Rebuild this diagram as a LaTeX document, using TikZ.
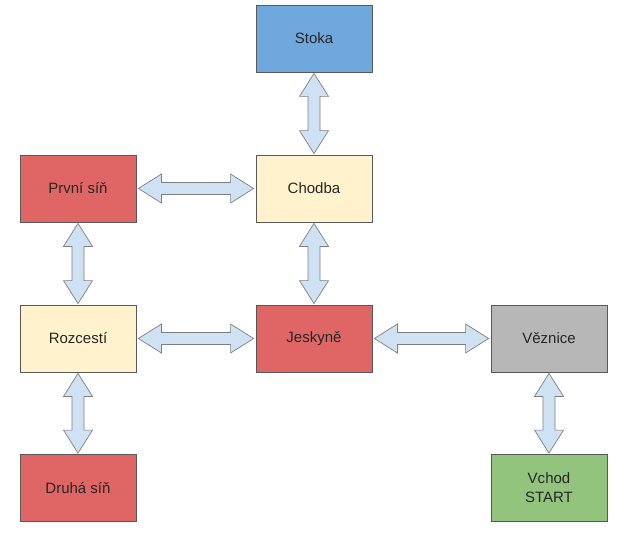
\documentclass[tikz,border=0pt]{standalone}
\usepackage{fontspec}
\setmainfont{Liberation Sans}
\usetikzlibrary{calc}
\definecolor{cblue}{HTML}{6FA8DC}
\definecolor{cred}{HTML}{E06666}
\definecolor{cbeige}{HTML}{FFF2CC}
\definecolor{cgray}{HTML}{B7B7B7}
\definecolor{cgreen}{HTML}{93C47D}
\definecolor{carrow}{HTML}{CFE2F3}
\definecolor{carrowline}{HTML}{7F7F7F}
\definecolor{cbox}{HTML}{595959}
\definecolor{ctext}{HTML}{262626}
\tikzset{
  room/.style={draw=cbox, line width=0.8pt, minimum width=116pt, minimum height=67pt,
    inner sep=0pt, align=center, text=ctext, font=\fontsize{15}{19}\selectfont},
  blockarrow/.style={draw=carrowline, fill=carrow, line width=0.7pt, line join=miter},
}
\newcommand\harrowc[2]{%
  \path[blockarrow] let \p1=(#1.east), \p2=(#2.west) in
    ($(\x1+2pt,\y1)$) -- ++(23pt,14.5pt) -- ++(0,-8.5pt) -- ($(\x2-25pt,\y1+6pt)$)
    -- ++(0,8.5pt) -- ($(\x2-2pt,\y1)$) -- ($(\x2-25pt,\y1-14.5pt)$) -- ++(0,8.5pt)
    -- ($(\x1+25pt,\y1-6pt)$) -- ++(0,-8.5pt) -- cycle;}
\newcommand\varrowc[2]{%
  \path[blockarrow] let \p1=(#1.south), \p2=(#2.north) in
    ($(\x1,\y1-1pt)$) -- ++(14.5pt,-23pt) -- ++(-8.5pt,0) -- ($(\x1+6pt,\y2+24pt)$)
    -- ++(8.5pt,0) -- ($(\x1,\y2+1pt)$) -- ($(\x1-14.5pt,\y2+24pt)$) -- ++(8.5pt,0)
    -- ($(\x1-6pt,\y1-24pt)$) -- ++(-8.5pt,0) -- cycle;}
\begin{document}
\begin{tikzpicture}[x=1pt,y=1pt]
\useasboundingbox (0,0) rectangle (617,-532);
\node[room, fill=cblue]  (stoka)   at (314,-38.5)  {Stoka};
\node[room, fill=cbeige] (chodba)  at (314,-188.5) {Chodba};
\node[room, fill=cred]   (prvni)   at (78,-188.5)  {První síň};
\node[room, fill=cbeige] (rozc)    at (78,-338.5)  {Rozcestí};
\node[room, fill=cred]   (jesk)    at (314,-338.5) {Jeskyně};
\node[room, fill=cgray]  (vez)     at (549,-338.5) {Věznice};
\node[room, fill=cgreen] (vchod)   at (549,-488)   {Vchod\\START};
\node[room, fill=cred]   (druha)   at (78,-488)    {Druhá síň};
\varrowc{stoka}{chodba}
\harrowc{prvni}{chodba}
\varrowc{prvni}{rozc}
\varrowc{chodba}{jesk}
\harrowc{rozc}{jesk}
\harrowc{jesk}{vez}
\varrowc{rozc}{druha}
\varrowc{vez}{vchod}
\end{tikzpicture}
\end{document}
